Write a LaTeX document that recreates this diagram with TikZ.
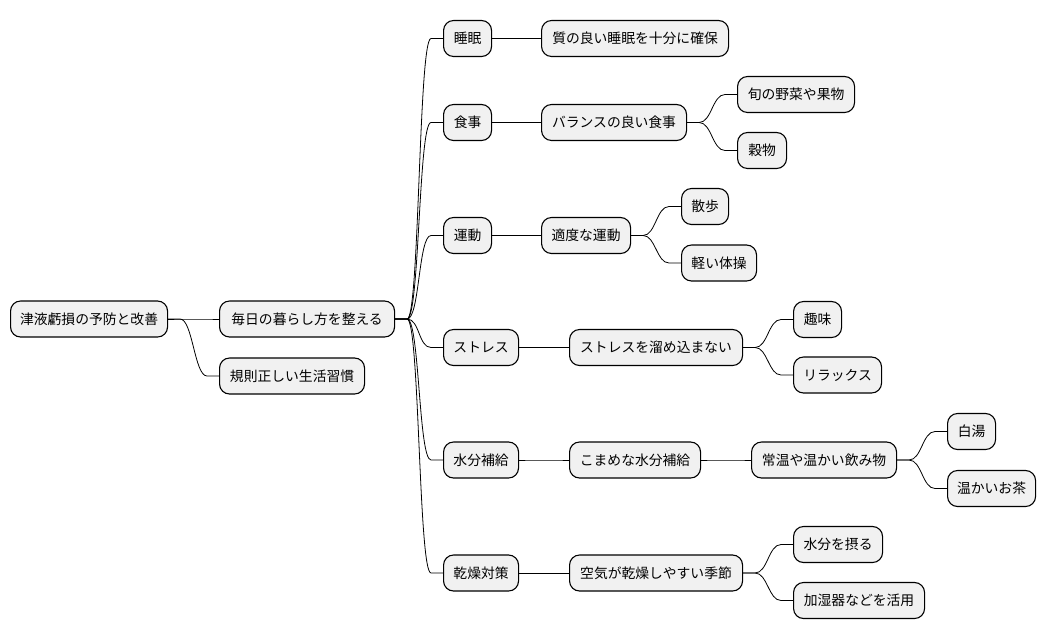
\documentclass[tikz,border=0pt]{standalone}
\usepackage{fontspec}
\setmainfont{Noto Sans CJK JP}
\usepackage{xcolor}
\definecolor{boxgray}{HTML}{F1F1F1}
\usetikzlibrary{positioning,calc}
\tikzset{
    topic/.style={draw=black, fill=boxgray, rounded corners=10pt, line width=1.1pt, anchor=west, minimum height=36pt, inner xsep=6pt, inner ysep=0pt, font=\fontsize{13.8}{16}\selectfont},
    branch/.style={line width=0.8pt, to path={-- ++(12,0) .. controls +(12.5,0) and +(-12.5,0) .. ([xshift=-12pt]\tikztotarget) -- (\tikztotarget)}}
}

\begin{document}
\begin{tikzpicture}[x=1pt, y=-1pt]
  \useasboundingbox (0,0) rectangle (1048,640);

  % Root and first level
  \node[topic, minimum width=157pt] (root) at (10,319) {津液虧損の予防と改善};
  \node[topic, minimum width=175pt] (daily) at (219,319) {毎日の暮らし方を整える};
  \node[topic, minimum width=145pt] (regular) at (219,376) {規則正しい生活習慣};

  % Second level
  \node[topic, minimum width=48pt] (sleep) at (443,38.5) {睡眠};
  \node[topic, minimum width=48pt] (meal) at (443,122.5) {食事};
  \node[topic, minimum width=48pt] (exercise) at (443,235.5) {運動};
  \node[topic, minimum width=75pt] (stress) at (443,347.5) {ストレス};
  \node[topic, minimum width=75pt] (water) at (443,460) {水分補給};
  \node[topic, minimum width=75pt] (dry) at (443,573) {乾燥対策};

  % Third level
  \node[topic, minimum width=187pt] (sleepq) at (541,38.5) {質の良い睡眠を十分に確保};
  \node[topic, minimum width=145pt] (balance) at (541,122.5) {バランスの良い食事};
  \node[topic, minimum width=89pt] (moderate) at (541,235.5) {適度な運動};
  \node[topic, minimum width=173pt] (nostress) at (569,347.5) {ストレスを溜め込まない};
  \node[topic, minimum width=131pt] (sip) at (569,460) {こまめな水分補給};
  \node[topic, minimum width=173pt] (dryseason) at (569,573) {空気が乾燥しやすい季節};

  % Leaves
  \node[topic, minimum width=117pt] (seasonal) at (737,94.5) {旬の野菜や果物};
  \node[topic, minimum width=49pt] (grain) at (737,150.5) {穀物};
  \node[topic, minimum width=47pt] (walk) at (681,206.5) {散歩};
  \node[topic, minimum width=75pt] (gym) at (681,263) {軽い体操};
  \node[topic, minimum width=48pt] (hobby) at (793,319.5) {趣味};
  \node[topic, minimum width=88pt] (relax) at (793,375) {リラックス};
  \node[topic, minimum width=145pt] (warmdrink) at (751,460) {常温や温かい飲み物};
  \node[topic, minimum width=48pt] (hotwater) at (947,431.5) {白湯};
  \node[topic, minimum width=88pt] (tea) at (947,488.5) {温かいお茶};
  \node[topic, minimum width=89pt] (drink) at (793,544.5) {水分を摂る};
  \node[topic, minimum width=131pt] (humid) at (793,600.5) {加湿器などを活用};

  % Branches
  \draw[branch] (root.east) to (daily.west);
  \draw[branch] (root.east) to (regular.west);
  \foreach \n in {sleep,meal,exercise,stress,water,dry}
    \draw[branch] (daily.east) to (\n.west);
  \draw[branch] (sleep.east) to (sleepq.west);
  \draw[branch] (meal.east) to (balance.west);
  \draw[branch] (exercise.east) to (moderate.west);
  \draw[branch] (stress.east) to (nostress.west);
  \draw[branch] (water.east) to (sip.west);
  \draw[branch] (dry.east) to (dryseason.west);
  \draw[branch] (balance.east) to (seasonal.west);
  \draw[branch] (balance.east) to (grain.west);
  \draw[branch] (moderate.east) to (walk.west);
  \draw[branch] (moderate.east) to (gym.west);
  \draw[branch] (nostress.east) to (hobby.west);
  \draw[branch] (nostress.east) to (relax.west);
  \draw[branch] (sip.east) to (warmdrink.west);
  \draw[branch] (warmdrink.east) to (hotwater.west);
  \draw[branch] (warmdrink.east) to (tea.west);
  \draw[branch] (dryseason.east) to (drink.west);
  \draw[branch] (dryseason.east) to (humid.west);
\end{tikzpicture}
\end{document}
